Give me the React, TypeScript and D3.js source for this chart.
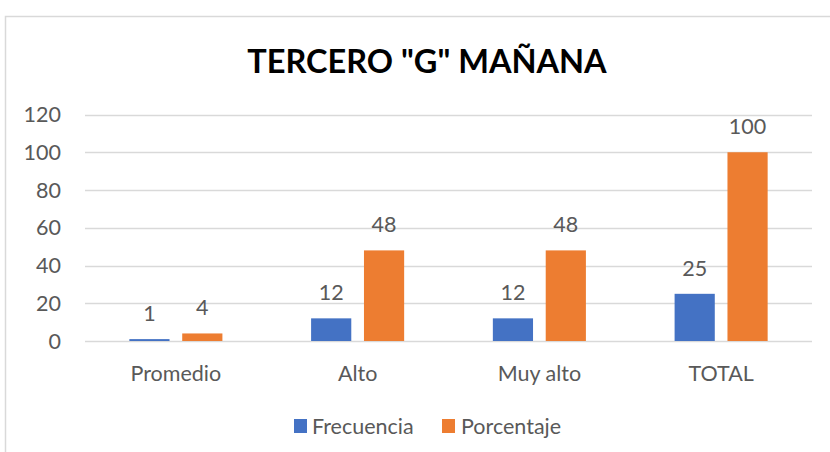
import React from "react";
import { scaleBand, scaleLinear } from "d3";

const categories = ["Promedio", "Alto", "Muy alto", "TOTAL"];
const series = ["Frecuencia", "Porcentaje"];
const frecuencia = [1, 12, 12, 25];
const porcentaje = [4, 48, 48, 100];
const yTicks = [0, 20, 40, 60, 80, 100, 120];

const colors: Record<string, string> = { Frecuencia: "#4472C4", Porcentaje: "#ED7D31" };
const FONT = "Lato, 'Open Sans', sans-serif";
const TEXT = "#595959";
const FS = 21.5;

export default function App() {
  const width = 830;
  const height = 452;

  const y = scaleLinear().domain([0, 120]).range([341, 114.5]);
  const x0 = scaleBand<string>().domain(categories).range([85, 812]).paddingInner(0.488).paddingOuter(0.244);
  const x1 = scaleBand<string>().domain(series).range([0, x0.bandwidth()]).paddingInner(0.24);

  const rows = categories.map((c, i) => ({
    cat: c,
    vals: [
      { s: "Frecuencia", v: frecuencia[i] },
      { s: "Porcentaje", v: porcentaje[i] },
    ],
  }));

  return (
    <svg width={width} height={height} style={{ position: "absolute", left: 0, top: 0, background: "#fff" }}>
      <rect x={5.5} y={16.5} width={900} height={500} fill="#fff" stroke="#d9d9d9" strokeWidth={1.5} />
      <text x={427} y={73} textAnchor="middle" fontFamily={FONT} fontWeight={700} fontSize={32.5} fill="#000">
        TERCERO "G" MAÑANA
      </text>

      {/* gridlines + y axis labels */}
      {yTicks.map((t) => (
        <g key={t}>
          <line x1={85} x2={812} y1={Math.round(y(t)) + 0.5} y2={Math.round(y(t)) + 0.5} stroke="#d9d9d9" strokeWidth={1.3} />
          <text x={61} y={y(t)} dy="0.35em" textAnchor="end" fontFamily={FONT} fontSize={FS} fill={TEXT}>
            {t}
          </text>
        </g>
      ))}

      {/* bars */}
      {rows.map((r) => (
        <g key={r.cat} transform={`translate(${x0(r.cat)},0)`}>
          {r.vals.map((d) => (
            <g key={d.s}>
              <rect x={x1(d.s)} y={y(d.v)} width={x1.bandwidth()} height={y(0) - y(d.v)} fill={colors[d.s]} />
              <text
                x={(x1(d.s) as number) + x1.bandwidth() / 2}
                y={y(d.v) - 18}
                textAnchor="middle"
                fontFamily={FONT}
                fontSize={FS}
                fill={TEXT}
              >
                {d.v}
              </text>
            </g>
          ))}
          <text x={x0.bandwidth() / 2} y={381} textAnchor="middle" fontFamily={FONT} fontSize={FS} fill={TEXT}>
            {r.cat}
          </text>
        </g>
      ))}

      {/* legend */}
      <rect x={294} y={419} width={13} height={14} fill={colors.Frecuencia} />
      <text x={312} y={434} fontFamily={FONT} fontSize={FS} fill={TEXT}>Frecuencia</text>
      <rect x={442} y={419} width={13} height={14} fill={colors.Porcentaje} />
      <text x={461} y={434} fontFamily={FONT} fontSize={FS} fill={TEXT}>Porcentaje</text>
    </svg>
  );
}
